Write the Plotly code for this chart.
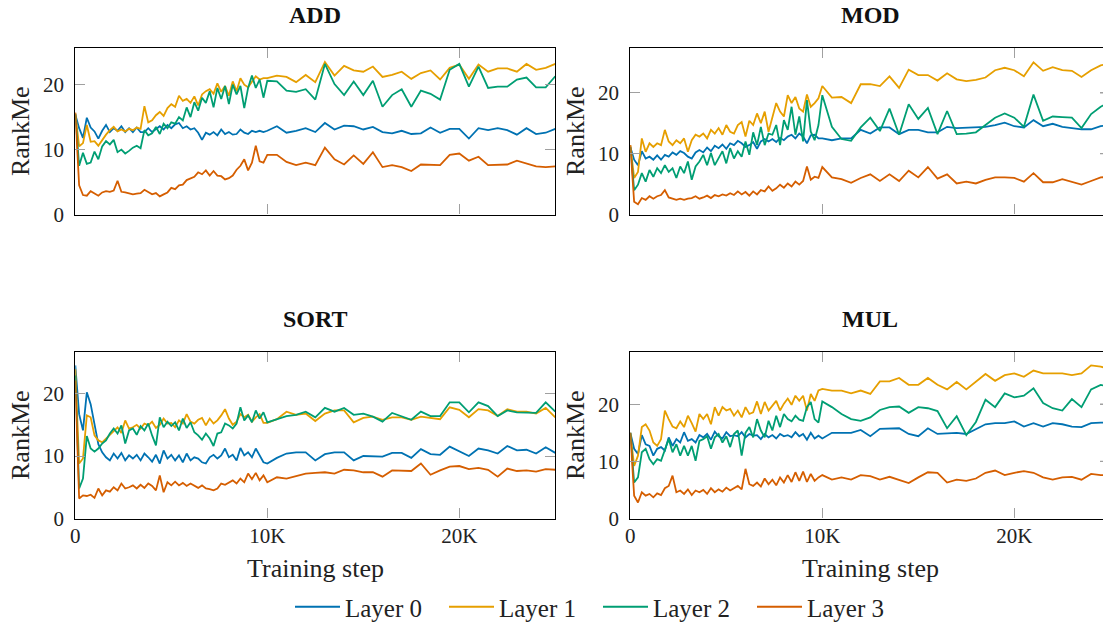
import plotly.graph_objects as go

# ---------------- data ----------------
steps = list(range(0, 10000, 200)) + list(range(10000, 25001, 500))

add_l0 = [15.4, 13.3, 11.8, 14.9, 13.4, 12.8, 11.7, 12.9, 13.8, 12.7,
          13.3, 12.9, 13.6, 12.7, 13.3, 12.7, 13.4, 12.7, 12.7, 13.3,
          12.7, 13.2, 13.6, 13.1, 13.8, 13.3, 13.9, 14.1, 13.3, 13.6,
          13.1, 13.3, 12.6, 11.5, 12.6, 12.3, 12.7, 12.2, 13.1, 12.4,
          12.7, 12.3, 12.4, 13.1, 12.6, 12.4, 12.9, 12.7, 12.9, 12.7,
          12.9, 13.6, 12.6, 12.9, 13.3, 12.7, 14.1, 13.1, 13.7, 13.6, 13.1, 13.5, 12.7, 12.5, 12.9, 12.4,
          12.5, 13.4, 12.6, 13.2, 13.2, 11.7, 13.3, 13.0, 13.3, 13.0, 12.3, 13.3, 12.4, 12.6, 13.2]
add_l1 = [15.6, 10.5, 11.0, 13.8, 11.2, 11.3, 10.6, 11.5, 12.3, 13.0,
          13.5, 12.8, 13.1, 12.8, 13.2, 13.0, 13.4, 13.2, 16.7, 14.2,
          14.5, 15.3, 15.8, 15.2, 16.4, 17.0, 16.6, 18.3, 17.5, 17.8,
          17.2, 18.2, 16.8, 18.5, 19.0, 19.3, 18.6, 20.2, 18.9, 19.8,
          18.3, 20.5, 19.0, 21.0, 20.0, 19.6, 20.5, 21.3, 20.8, 21.0,
          21.0, 21.4, 21.2, 20.4, 21.5, 20.4, 23.5, 21.4, 22.9, 22.2, 22.0, 22.8, 21.2, 21.5, 22.0, 20.9,
          21.8, 22.2, 20.8, 22.6, 23.1, 20.9, 23.1, 22.0, 22.5, 22.5, 22.0, 23.2, 22.3, 22.6, 23.2]
add_l2 = [15.5, 7.5, 9.5, 7.8, 8.0, 9.7, 8.5, 10.5, 11.3, 10.8,
          11.5, 9.6, 10.0, 9.4, 9.8, 10.3, 10.6, 10.2, 13.0, 12.2,
          12.5, 13.5, 12.4, 14.0, 13.3, 14.2, 14.0, 15.0, 14.5, 16.5,
          15.0, 17.3, 16.0, 18.0, 17.2, 19.0, 16.5, 19.5, 17.8, 19.8,
          17.0, 20.0, 18.5, 19.8, 16.4, 19.5, 21.4, 19.5, 20.8, 18.0,
          20.6, 20.5, 19.1, 18.9, 19.3, 17.7, 23.2, 20.1, 18.4, 20.5, 18.4, 20.6, 16.6, 18.4, 19.3, 16.6,
          19.1, 18.6, 17.7, 22.3, 23.2, 19.7, 22.8, 19.5, 19.7, 19.7, 20.8, 21.1, 19.6, 19.6, 21.3]
add_l3 = [15.7, 4.5, 3.0, 2.9, 3.6, 3.3, 2.9, 3.4, 3.6, 3.5,
          3.7, 5.2, 3.5, 3.4, 3.2, 3.1, 3.2, 3.3, 3.8, 3.4,
          3.1, 3.3, 2.8, 3.1, 3.4, 4.1, 3.9, 4.5, 4.6, 5.3,
          5.6, 5.8, 6.5, 6.2, 6.8, 6.0, 6.7, 6.0, 5.9, 5.4,
          5.6, 6.0, 6.9, 7.5, 8.5, 6.8, 8.0, 10.6, 8.2, 8.0,
          9.2, 9.2, 8.1, 7.6, 8.0, 7.6, 10.3, 8.5, 7.7, 9.1, 7.8, 9.6, 7.3, 7.6, 7.3, 6.7,
          7.7, 7.7, 7.6, 9.2, 9.4, 8.3, 8.9, 7.6, 7.6, 7.7, 8.3, 7.8, 7.4, 7.3, 7.4]

mod_l0 = [11.1, 9.0, 8.1, 10.4, 9.2, 9.5, 9.0, 9.7, 9.0, 9.8,
          9.5, 10.2, 9.8, 10.4, 10.1, 9.5, 9.2, 10.2, 10.6, 10.2,
          11.0, 10.4, 11.3, 10.9, 11.5, 10.8, 11.7, 11.4, 12.1, 11.7,
          11.1, 11.4, 11.9, 10.8, 12.0, 12.4, 12.0, 12.4, 11.9, 12.6,
          12.2, 12.8, 13.1, 12.5, 13.3, 12.8, 11.7, 13.0, 13.1, 12.5,
          12.5, 12.2, 12.5, 12.5, 13.9, 13.3, 14.3, 14.3, 13.2, 13.9, 13.9, 13.5, 13.5, 14.4, 14.2, 14.3,
          14.4, 14.4, 14.7, 15.1, 14.5, 14.3, 15.5, 14.5, 14.9, 14.4, 14.2, 14.0, 14.0, 14.5, 14.8]
mod_l1 = [11.4, 6.0, 7.0, 12.5, 10.3, 11.7, 11.1, 11.7, 11.4, 13.9,
          12.0, 11.4, 12.2, 11.7, 12.5, 10.3, 12.2, 13.1, 12.8, 13.3,
          12.5, 13.9, 13.3, 14.2, 13.1, 14.7, 13.6, 13.3, 14.7, 15.2,
          12.8, 15.4, 14.7, 16.6, 15.0, 16.9, 13.6, 16.1, 18.3, 16.9,
          16.1, 19.6, 18.3, 19.3, 17.4, 16.9, 19.7, 17.7, 18.3, 19.1,
          21.1, 19.2, 19.3, 18.3, 21.4, 21.4, 21.1, 22.7, 20.8, 23.8, 22.9, 22.9, 22.0, 23.2, 22.2, 21.9,
          22.1, 22.5, 23.7, 24.1, 23.7, 22.7, 25.0, 23.6, 24.2, 23.7, 23.6, 22.6, 23.7, 24.5, 24.8]
mod_l2 = [11.1, 4.0, 4.9, 6.8, 5.4, 7.3, 6.2, 7.6, 6.8, 8.1,
          7.0, 7.6, 6.0, 7.9, 6.8, 8.7, 5.7, 7.9, 8.7, 9.8,
          8.1, 10.1, 8.1, 9.2, 10.4, 8.4, 10.9, 9.2, 10.4, 9.5,
          12.0, 9.8, 13.5, 11.4, 14.4, 11.4, 13.3, 13.1, 14.7, 11.4,
          15.5, 13.9, 17.7, 13.1, 16.1, 12.0, 18.8, 13.6, 12.2, 14.7,
          19.6, 14.4, 12.4, 12.1, 14.3, 15.9, 13.7, 17.4, 13.1, 18.1, 15.7, 17.5, 13.2, 17.0, 13.2, 13.3,
          13.5, 14.7, 15.9, 16.6, 15.9, 14.4, 19.7, 15.4, 16.1, 16.0, 15.9, 14.2, 16.5, 17.7, 18.5]
mod_l3 = [11.4, 2.1, 1.7, 2.7, 2.4, 3.0, 2.6, 3.0, 3.2, 4.0,
          2.8, 2.6, 2.4, 2.6, 2.4, 2.6, 2.7, 3.0, 2.6, 2.8,
          3.1, 2.7, 3.2, 3.0, 3.3, 3.1, 3.5, 3.2, 3.8, 3.3,
          3.7, 3.1, 3.8, 3.3, 4.0, 3.8, 4.6, 3.9, 4.3, 4.9,
          4.4, 5.1, 4.6, 5.4, 4.9, 5.5, 7.9, 5.7, 6.2, 6.0,
          7.8, 6.1, 5.8, 5.2, 6.0, 6.6, 5.5, 6.6, 5.5, 7.2, 6.1, 7.8, 5.9, 6.6, 5.1, 5.4,
          5.1, 5.7, 6.1, 6.1, 6.0, 5.4, 6.8, 5.3, 5.3, 5.8, 5.4, 4.9, 5.5, 6.1, 6.2]

sort_l0 = [24.5, 16.7, 14.1, 20.2, 18.3, 15.1, 11.9, 10.6, 9.8, 9.3,
           10.4, 9.6, 10.5, 9.3, 10.1, 9.6, 10.2, 9.3, 10.4, 9.8,
           9.1, 10.2, 8.8, 10.9, 9.6, 10.2, 9.3, 10.1, 9.0, 10.4,
           9.3, 9.8, 9.6, 9.0, 8.8, 9.8, 10.2, 9.6, 10.1, 11.2,
           9.8, 10.2, 9.3, 11.3, 10.1, 10.6, 9.8, 11.2, 10.1, 9.0,
           8.8, 9.7, 10.4, 10.6, 10.6, 9.3, 10.3, 10.6, 10.6, 9.3, 10.0, 10.0, 9.9, 10.5, 10.5, 9.7,
           11.1, 10.3, 10.2, 11.5, 10.8, 10.0, 11.2, 10.9, 10.4, 11.6, 10.9, 11.0, 10.4, 11.4, 10.5]
sort_l1 = [23.9, 8.8, 9.6, 16.5, 16.2, 13.3, 12.5, 12.2, 12.8, 13.4,
           14.1, 14.6, 13.7, 15.7, 14.4, 14.6, 15.0, 14.4, 15.2, 14.9,
           15.5, 14.5, 15.0, 16.0, 15.2, 15.3, 14.6, 15.7, 15.2, 16.7,
           15.5, 15.2, 15.8, 16.1, 14.9, 16.0, 15.2, 15.7, 16.5, 17.5,
           16.0, 15.0, 15.5, 16.7, 16.2, 16.6, 15.5, 16.2, 16.7, 15.3,
           15.3, 15.9, 17.1, 16.6, 16.8, 15.6, 16.8, 17.3, 17.3, 15.4, 16.1, 16.3, 15.8, 16.2, 16.2, 15.8,
           16.3, 16.1, 15.9, 17.8, 17.4, 16.2, 17.5, 17.3, 16.4, 17.5, 17.1, 17.1, 16.8, 17.7, 16.2]
sort_l2 = [22.9, 4.8, 6.4, 13.2, 11.2, 10.7, 11.2, 12.0, 12.5, 13.6,
           14.4, 13.6, 14.9, 12.0, 14.1, 14.4, 13.4, 14.8, 14.1, 15.2,
           13.3, 11.7, 16.2, 14.6, 15.5, 14.8, 15.4, 14.1, 16.0, 14.5,
           15.4, 13.8, 13.3, 12.6, 13.6, 12.8, 11.6, 13.6, 13.8, 15.2,
           14.9, 14.4, 15.2, 17.8, 15.7, 16.5, 15.4, 17.3, 16.0, 17.0,
           15.4, 15.9, 16.4, 16.6, 17.1, 16.2, 17.7, 17.1, 17.7, 16.6, 16.8, 16.3, 15.5, 16.9, 16.4, 15.8,
           17.1, 16.4, 16.4, 18.6, 18.6, 17.0, 18.6, 18.0, 16.4, 17.3, 17.0, 17.0, 16.9, 18.6, 17.1]
sort_l3 = [22.1, 3.2, 3.7, 3.6, 3.8, 3.3, 4.8, 3.7, 4.5, 4.3,
           5.0, 4.5, 5.6, 4.8, 5.0, 5.3, 4.8, 5.4, 4.9, 5.6,
           5.2, 4.5, 6.9, 4.2, 5.8, 5.3, 5.9, 5.3, 5.7, 5.2,
           5.6, 5.2, 4.9, 5.3, 4.8, 4.7, 4.5, 4.8, 5.6, 5.4,
           5.8, 6.1, 5.6, 6.4, 5.8, 7.2, 6.3, 7.3, 6.1, 6.9,
           5.8, 6.6, 6.4, 6.8, 7.2, 7.3, 7.4, 7.2, 7.8, 7.7, 7.4, 7.4, 6.7, 7.7, 7.7, 7.6,
           8.8, 7.0, 7.7, 8.3, 8.4, 7.9, 8.1, 7.8, 6.7, 8.0, 7.6, 7.7, 7.5, 7.9, 7.8]

mul_l0 = [15.0, 12.2, 11.3, 14.6, 13.0, 12.7, 11.0, 12.2, 12.5, 11.9,
          14.2, 12.7, 13.9, 13.3, 15.1, 13.6, 13.9, 13.3, 14.6, 14.2,
          14.8, 13.8, 15.2, 14.4, 14.0, 15.1, 14.4, 14.6, 14.4, 15.1,
          14.2, 14.8, 14.5, 14.6, 13.9, 14.8, 14.2, 14.6, 14.0, 14.8,
          14.4, 14.6, 14.2, 15.1, 14.4, 14.8, 13.8, 15.0, 14.0, 14.5,
          14.0, 15.0, 15.0, 15.0, 15.5, 14.4, 15.7, 15.7, 15.8, 14.8, 14.4, 15.8, 14.8, 14.9, 15.0, 14.8,
          15.7, 16.5, 16.7, 16.7, 17.0, 16.1, 16.7, 16.1, 16.7, 16.5, 16.1, 16.0, 16.7, 16.8, 16.7]
mul_l1 = [15.0, 9.2, 11.0, 16.0, 16.5, 15.4, 13.3, 12.7, 13.9, 18.9,
          17.4, 16.1, 15.8, 17.0, 16.0, 18.0, 16.7, 15.2, 18.3, 17.4,
          18.3, 16.5, 19.5, 18.0, 19.5, 18.9, 19.2, 18.0, 18.9, 17.7,
          19.5, 18.3, 18.6, 20.5, 18.3, 20.4, 18.9, 19.8, 20.6, 18.9,
          20.1, 21.0, 19.9, 21.5, 20.6, 21.5, 18.9, 21.8, 20.6, 22.4,
          22.7, 22.4, 22.4, 21.9, 22.4, 21.8, 24.0, 24.0, 24.6, 23.4, 23.4, 24.6, 23.4, 22.6, 23.9, 22.6,
          23.9, 25.3, 24.1, 25.1, 25.4, 24.8, 25.9, 25.4, 25.4, 25.4, 25.1, 25.4, 26.8, 26.6, 26.1]
mul_l2 = [15.0, 6.3, 7.2, 11.6, 12.2, 10.4, 9.5, 10.4, 10.1, 12.2,
          13.9, 11.6, 13.0, 11.0, 12.7, 11.0, 12.7, 10.1, 13.6, 13.9,
          14.4, 12.2, 14.2, 14.8, 13.3, 14.4, 12.5, 14.8, 15.4, 11.0,
          15.0, 16.0, 14.2, 17.4, 15.4, 14.2, 17.1, 15.4, 18.0, 16.0,
          18.3, 17.4, 17.0, 18.0, 17.3, 17.1, 19.5, 20.4, 17.4, 16.8,
          20.5, 19.5, 18.3, 17.4, 17.1, 17.7, 19.0, 19.5, 19.6, 18.5, 19.5, 19.3, 18.8, 15.8, 17.9, 14.6,
          16.9, 20.8, 19.5, 21.9, 21.2, 21.5, 22.8, 20.2, 19.3, 18.9, 20.9, 19.5, 22.6, 23.4, 23.0]
mul_l3 = [15.0, 4.0, 2.8, 4.6, 4.0, 4.3, 3.7, 4.4, 4.1, 5.3,
          5.7, 7.5, 4.6, 4.9, 4.3, 5.1, 4.1, 4.9, 4.6, 5.0,
          4.3, 5.3, 4.6, 5.1, 4.7, 5.4, 4.9, 5.3, 5.7, 5.1,
          8.7, 6.0, 5.7, 6.3, 5.6, 7.0, 6.0, 6.8, 5.8, 7.2,
          6.3, 7.6, 6.4, 8.1, 6.6, 8.2, 6.4, 7.8, 6.6, 7.2,
          7.6, 6.8, 7.2, 6.8, 7.6, 7.4, 6.8, 7.3, 6.8, 6.2, 7.2, 8.1, 8.0, 6.3, 6.8, 6.6,
          7.0, 8.0, 8.4, 7.6, 8.0, 8.3, 8.0, 7.2, 6.8, 7.2, 7.3, 6.8, 7.8, 7.6, 7.6]

layer_names = ["Layer 0", "Layer 1", "Layer 2", "Layer 3"]
colors = ["#0072B2", "#E69F00", "#009E73", "#D55E00"]
panel_titles = ["ADD", "MOD", "SORT", "MUL"]
panel_series = [
    [add_l0, add_l1, add_l2, add_l3],
    [mod_l0, mod_l1, mod_l2, mod_l3],
    [sort_l0, sort_l1, sort_l2, sort_l3],
    [mul_l0, mul_l1, mul_l2, mul_l3],
]
y_max = [25.7, 27.4, 26.7, 29.2]
tick_vals_x = [0, 10000, 20000]
tick_text_x = ["0", "10K", "20K"]
tick_vals_y = [0, 10, 20]

# ---------------- layout geometry ----------------
W, H = 1103, 622
FONT = "Liberation Serif, Times New Roman, Times, serif"
left_dom = [75.3 / W, 555.3 / W]
right_dom = [630.3 / W, 1.0]
top_dom = [(H - 214.5) / H, (H - 47.7) / H]
bot_dom = [(H - 518.5) / H, (H - 351.7) / H]
x_doms = [left_dom, right_dom, left_dom, right_dom]
y_doms = [top_dom, top_dom, bot_dom, bot_dom]
right_max = 25000 * (1103 - 630.3) / 480.0
x_ranges = [[0, 25000], [0, right_max], [0, 25000], [0, right_max]]

fig = go.Figure()
for p in range(4):
    xa = "x" if p == 0 else f"x{p+1}"
    ya = "y" if p == 0 else f"y{p+1}"
    for i in range(4):
        fig.add_trace(go.Scatter(
            x=steps, y=panel_series[p][i], mode="lines",
            line=dict(color=colors[i], width=1.8),
            name=layer_names[i], legendgroup=layer_names[i],
            showlegend=(p == 0), xaxis=xa, yaxis=ya,
            hoverinfo="skip"))

layout = dict(
    template="none",
    width=W, height=H, margin=dict(l=0, r=0, t=0, b=0, autoexpand=False),
    paper_bgcolor="white", plot_bgcolor="white",
    font=dict(family=FONT, size=21, color="#222"),
    showlegend=True,
    legend=dict(orientation="h", x=598 / W, xanchor="center", y=15 / H, yanchor="middle",
                font=dict(family=FONT, size=25, color="#222"),
                bgcolor="rgba(0,0,0,0)", itemwidth=45, entrywidth=94, borderwidth=0),
)
for p in range(4):
    xk = "xaxis" if p == 0 else f"xaxis{p+1}"
    yk = "yaxis" if p == 0 else f"yaxis{p+1}"
    ya = "y" if p == 0 else f"y{p+1}"
    xa = "x" if p == 0 else f"x{p+1}"
    is_right = p in (1, 3)
    layout[xk] = dict(
        domain=x_doms[p], range=x_ranges[p], anchor=ya, automargin=False,
        showgrid=False, zeroline=False, showline=True, linecolor="black", linewidth=1.1,
        mirror="allticks", ticks="inside", ticklen=10, tickwidth=1.4, tickcolor="#a0a0a0",
        tickvals=tick_vals_x, ticktext=tick_text_x, showticklabels=(p >= 2),
        tickfont=dict(family=FONT, size=21, color="#222"), ticklabelstandoff=-2,
    )
    layout[yk] = dict(
        domain=y_doms[p], range=[0, y_max[p]], anchor=xa, automargin=False,
        showgrid=False, zeroline=False, showline=True, linecolor="black", linewidth=1.1,
        mirror=(False if is_right else "allticks"), ticks="inside", ticklen=10, tickwidth=1.4,
        tickcolor="#a0a0a0", tickvals=tick_vals_y,
        tickfont=dict(family=FONT, size=21, color="#222"), ticklabelstandoff=6,
    )
fig.update_layout(**layout)

# right-edge tick stubs of the cropped right panels
shapes = []
for p in (1, 3):
    ya = f"y{p+1}"
    for tv in tick_vals_y[1:]:
        shapes.append(dict(type="line", xref=f"x{p+1} domain", x0=0.9937, x1=1.0,
                           yref=ya, y0=tv, y1=tv, line=dict(color="#a0a0a0", width=1.4)))
fig.update_layout(shapes=shapes)

ann = []
title_pos = [(315.3, 15), (870.3, 15), (315.3, 319), (870.3, 319)]
for p in range(4):
    ann.append(dict(text=f"<b>{panel_titles[p]}</b>", x=title_pos[p][0] / W, y=(H - title_pos[p][1]) / H,
                    xref="paper", yref="paper", showarrow=False, xanchor="center", yanchor="middle",
                    font=dict(family=FONT, size=24, color="#111")))
for (cx, cy) in [(20, 131), (575, 131), (20, 435), (575, 435)]:
    ann.append(dict(text="RankMe", x=cx / W, y=(H - cy) / H, xref="paper", yref="paper",
                    showarrow=False, textangle=-90, xanchor="center", yanchor="middle",
                    font=dict(family=FONT, size=26, color="#222")))
for cx in (315.3, 870.3):
    ann.append(dict(text="Training step", x=cx / W, y=(H - 568) / H, xref="paper", yref="paper",
                    showarrow=False, xanchor="center", yanchor="middle",
                    font=dict(family=FONT, size=26, color="#222")))
fig.update_layout(annotations=ann)

fig.write_html("out.html")
